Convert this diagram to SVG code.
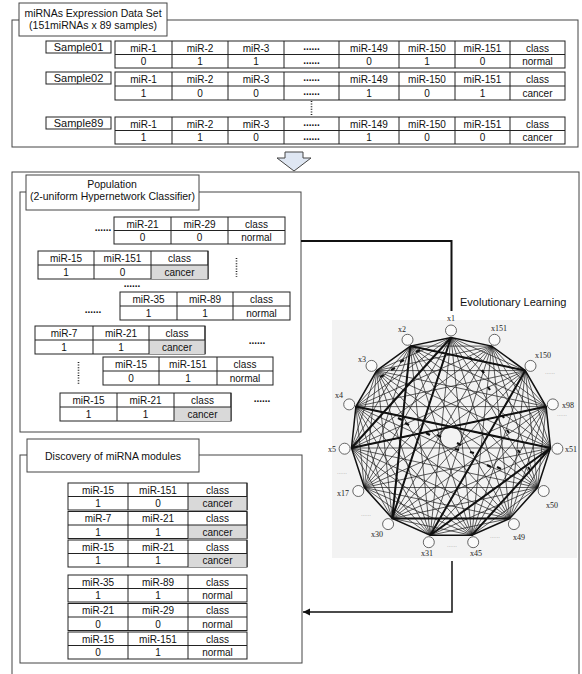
<svg xmlns="http://www.w3.org/2000/svg" width="582" height="674" viewBox="0 0 582 674">
<style>
.fr{fill:#fff;stroke:#444;stroke-width:1}
.tb{fill:#fff;stroke:#222;stroke-width:1}
.tl{fill:none;stroke:#222;stroke-width:1}
.sh{fill:#d9d9d9;stroke:none}
text{font-family:'Liberation Sans',Arial,sans-serif;fill:#111}
.t{font-size:10px;text-anchor:middle}
.ti{font-size:10.5px;text-anchor:middle}
.sm{font-size:11px;text-anchor:middle}
.d{font-size:10px;text-anchor:middle;font-weight:bold}
.vd{stroke:#222;stroke-width:1.6;stroke-dasharray:1 1.6;fill:none}
.e{fill:none;stroke:#1a1a1a;stroke-width:0.7}
.ek{fill:none;stroke:#111;stroke-width:2}
.nd{fill:#fafafa;stroke:#555;stroke-width:0.9}
.nl{font-family:'Liberation Serif','Times New Roman',serif;font-size:8px;text-anchor:middle;fill:#222}
.gd{font-size:6px;text-anchor:middle;fill:#999}
.cn{fill:none;stroke:#111}
</style>
<defs>
<marker id="ah" markerWidth="8" markerHeight="8" refX="7" refY="4" orient="auto" markerUnits="userSpaceOnUse"><path d="M0 0.5L7 4L0 7.5Z" fill="#111"/></marker>
</defs>

<!-- Section 1: data set -->
<g id="dataset-panel">
<rect class="fr" x="12" y="20" width="566" height="127"/>
<rect class="fr" x="19" y="3" width="148" height="33"/>
<text class="ti" x="93" y="16.5">miRNAs Expression Data Set</text>
<text class="ti" x="93" y="29">(151miRNAs x 89 samples)</text>
</g>

<g id="sample01">
<rect class="tb" x="46" y="41" width="65" height="12"/>
<text class="sm" x="78.5" y="51">Sample01</text>
<rect class="tb" x="115" y="41" width="450" height="27"/>
<path class="tl" d="M115 54.5H565M172 41V68M228 41V68M284 41V68M339 41V68M399 41V68M455 41V68M510 41V68"/>
<text class="t" x="143.5" y="51.5">miR-1</text><text class="t" x="200" y="51.5">miR-2</text><text class="t" x="256" y="51.5">miR-3</text><text class="d" x="311.5" y="50">......</text><text class="t" x="369" y="51.5">miR-149</text><text class="t" x="427" y="51.5">miR-150</text><text class="t" x="482.5" y="51.5">miR-151</text><text class="t" x="537.5" y="51.5">class</text>
<text class="t" x="143.5" y="65">0</text><text class="t" x="200" y="65">1</text><text class="t" x="256" y="65">1</text><text class="d" x="311.5" y="63.5">......</text><text class="t" x="369" y="65">0</text><text class="t" x="427" y="65">1</text><text class="t" x="482.5" y="65">0</text><text class="t" x="537.5" y="65">normal</text>
</g>

<g id="sample02">
<rect class="tb" x="46" y="72" width="65" height="12"/>
<text class="sm" x="78.5" y="82">Sample02</text>
<rect class="tb" x="115" y="72" width="450" height="28"/>
<path class="tl" d="M115 86H565M172 72V100M228 72V100M284 72V100M339 72V100M399 72V100M455 72V100M510 72V100"/>
<text class="t" x="143.5" y="82.5">miR-1</text><text class="t" x="200" y="82.5">miR-2</text><text class="t" x="256" y="82.5">miR-3</text><text class="d" x="311.5" y="81">......</text><text class="t" x="369" y="82.5">miR-149</text><text class="t" x="427" y="82.5">miR-150</text><text class="t" x="482.5" y="82.5">miR-151</text><text class="t" x="537.5" y="82.5">class</text>
<text class="t" x="143.5" y="96.5">1</text><text class="t" x="200" y="96.5">0</text><text class="t" x="256" y="96.5">0</text><text class="d" x="311.5" y="95">......</text><text class="t" x="369" y="96.5">1</text><text class="t" x="427" y="96.5">0</text><text class="t" x="482.5" y="96.5">1</text><text class="t" x="537.5" y="96.5">cancer</text>
</g>

<path class="vd" d="M311.5 101V116"/>

<g id="sample89">
<rect class="tb" x="46" y="117" width="65" height="12"/>
<text class="sm" x="78.5" y="127">Sample89</text>
<rect class="tb" x="115" y="117" width="450" height="27"/>
<path class="tl" d="M115 130.5H565M172 117V144M228 117V144M284 117V144M339 117V144M399 117V144M455 117V144M510 117V144"/>
<text class="t" x="143.5" y="127.5">miR-1</text><text class="t" x="200" y="127.5">miR-2</text><text class="t" x="256" y="127.5">miR-3</text><text class="d" x="311.5" y="126">......</text><text class="t" x="369" y="127.5">miR-149</text><text class="t" x="427" y="127.5">miR-150</text><text class="t" x="482.5" y="127.5">miR-151</text><text class="t" x="537.5" y="127.5">class</text>
<text class="t" x="143.5" y="141">1</text><text class="t" x="200" y="141">1</text><text class="t" x="256" y="141">0</text><text class="d" x="311.5" y="139.5">......</text><text class="t" x="369" y="141">1</text><text class="t" x="427" y="141">0</text><text class="t" x="482.5" y="141">0</text><text class="t" x="537.5" y="141">cancer</text>
</g>

<g id="transition-arrow">
<path d="M285 152H303V158H311L294 171L277 158H285Z" fill="#dfe7f3" stroke="#444" stroke-width="1"/>
</g>

<!-- Section 2 -->
<g id="learning-section">
<rect class="fr" x="12" y="172" width="567" height="520"/>
</g>

<g id="population-panel">
<rect class="fr" x="20" y="192" width="281" height="240"/>
<rect class="fr" x="26" y="175" width="173" height="35"/>
<text class="ti" x="112" y="188">Population</text>
<text class="ti" x="112.5" y="200">(2-uniform Hypernetwork Classifier)</text>
</g>

<g id="pop-edge-1">
<rect class="tb" x="114" y="217" width="171" height="27"/>
<path class="tl" d="M114 230.5H285M171 217V244M228 217V244"/>
<text class="t" x="142.5" y="227.5">miR-21</text><text class="t" x="199.5" y="227.5">miR-29</text><text class="t" x="256.5" y="227.5">class</text>
<text class="t" x="142.5" y="241">0</text><text class="t" x="199.5" y="241">0</text><text class="t" x="256.5" y="241">normal</text>
</g>
<g id="pop-edge-2">
<rect class="tb" x="38" y="251" width="170" height="28"/>
<rect class="sh" x="151" y="265" width="57" height="14"/>
<path class="tl" d="M38 265H208M94 251V279M151 251V279M208 251V279"/>
<text class="t" x="66" y="261.5">miR-15</text><text class="t" x="122.5" y="261.5">miR-151</text><text class="t" x="179.5" y="261.5">class</text>
<text class="t" x="66" y="275.5">1</text><text class="t" x="122.5" y="275.5">0</text><text class="t" x="179.5" y="275.5">cancer</text>
</g>
<g id="pop-edge-3">
<rect class="tb" x="120" y="292" width="170" height="28"/>
<path class="tl" d="M120 306H290M177 292V320M233 292V320"/>
<text class="t" x="148.5" y="302.5">miR-35</text><text class="t" x="205" y="302.5">miR-89</text><text class="t" x="261.5" y="302.5">class</text>
<text class="t" x="148.5" y="316.5">1</text><text class="t" x="205" y="316.5">1</text><text class="t" x="261.5" y="316.5">normal</text>
</g>
<g id="pop-edge-4">
<rect class="tb" x="35" y="326" width="170" height="28"/>
<rect class="sh" x="149" y="340" width="56" height="14"/>
<path class="tl" d="M35 340H205M93 326V354M149 326V354M205 326V354"/>
<text class="t" x="64" y="336.5">miR-7</text><text class="t" x="121" y="336.5">miR-21</text><text class="t" x="177" y="336.5">class</text>
<text class="t" x="64" y="350.5">1</text><text class="t" x="121" y="350.5">1</text><text class="t" x="177" y="350.5">cancer</text>
</g>
<g id="pop-edge-5">
<rect class="tb" x="103" y="357" width="170" height="28"/>
<path class="tl" d="M103 371H273M159 357V385M217 357V385"/>
<text class="t" x="131" y="367.5">miR-15</text><text class="t" x="188" y="367.5">miR-151</text><text class="t" x="245" y="367.5">class</text>
<text class="t" x="131" y="381.5">0</text><text class="t" x="188" y="381.5">1</text><text class="t" x="245" y="381.5">normal</text>
</g>
<g id="pop-edge-6">
<rect class="tb" x="60" y="393" width="171" height="28"/>
<rect class="sh" x="174" y="407" width="57" height="14"/>
<path class="tl" d="M60 407H231M117 393V421M174 393V421M231 393V421"/>
<text class="t" x="88.5" y="403.5">miR-15</text><text class="t" x="145.5" y="403.5">miR-21</text><text class="t" x="202.5" y="403.5">class</text>
<text class="t" x="88.5" y="417.5">1</text><text class="t" x="145.5" y="417.5">1</text><text class="t" x="202.5" y="417.5">cancer</text>
</g>
<g id="pop-ellipses">
<text class="d" x="103" y="231">......</text>
<path class="vd" d="M236.5 258V277"/>
<text class="d" x="132" y="287">......</text>
<text class="d" x="93" y="313">......</text>
<text class="d" x="257" y="344">......</text>
<path class="vd" d="M78.5 362V384"/>
<text class="d" x="262" y="402">......</text>
</g>

<g id="evolutionary-label">
<text x="460" y="305.5" style="font-size:11px">Evolutionary Learning</text>
</g>

<g id="hypernetwork">
<rect x="332" y="320" width="245" height="238" fill="#f3f3f3"/>
<path class="e" d="M451 337.5L525.3 370.6 550.5 448 509.8 518.4 430.2 535.3 364.4 487.5 355.9 406.6 410.3 346.1 491.7 346.1 546.1 406.6 537.6 487.5 471.8 535.3 392.2 518.4 351.5 448 376.7 370.6Z
M451 337.5L550.5 448 430.2 535.3 355.9 406.6 491.7 346.1 537.6 487.5 392.2 518.4 376.7 370.6 525.3 370.6 509.8 518.4 364.4 487.5 410.3 346.1 546.1 406.6 471.8 535.3 351.5 448Z
M451 337.5L471.8 535.3 410.3 346.1 509.8 518.4 376.7 370.6 537.6 487.5 355.9 406.6 550.5 448 351.5 448 546.1 406.6 364.4 487.5 525.3 370.6 392.2 518.4 491.7 346.1 430.2 535.3Z
M451 337.5L546.1 406.6 509.8 518.4 392.2 518.4 355.9 406.6Z
M491.7 346.1L550.5 448 471.8 535.3 364.4 487.5 376.7 370.6Z
M525.3 370.6L537.6 487.5 430.2 535.3 351.5 448 410.3 346.1Z
M451 337.5L509.8 518.4 355.9 406.6 546.1 406.6 392.2 518.4Z
M491.7 346.1L471.8 535.3 376.7 370.6 550.5 448 364.4 487.5Z
M525.3 370.6L430.2 535.3 410.3 346.1 537.6 487.5 351.5 448Z
M451 337.5L537.6 487.5 364.4 487.5Z
M491.7 346.1L509.8 518.4 351.5 448Z
M525.3 370.6L471.8 535.3 355.9 406.6Z
M546.1 406.6L430.2 535.3 376.7 370.6Z
M550.5 448L392.2 518.4 410.3 346.1Z"/>
<path d="M451 337.5L491.7 346.1 525.3 370.6 546.1 406.6 550.5 448 537.6 487.5 509.8 518.4 471.8 535.3 430.2 535.3 392.2 518.4 364.4 487.5 351.5 448 355.9 406.6 376.7 370.6 410.3 346.1Z" fill="none" stroke="#111" stroke-width="1.5"/>
<path class="ek" d="M410.3 346.1L525.3 370.6M355.9 406.6L550.5 448M351.5 448L546.1 406.6M351.5 448L451 337.5M451 337.5L392.2 518.4M392.2 518.4L410.3 346.1M430.2 535.3L525.3 370.6M550.5 448L471.8 535.3M550.5 448L430.2 535.3M392.2 518.4L509.8 518.4"/>
<path d="M380 377l4 -2M391 370l4 -2M400 362l4 -2M416 352l4 -2M398 418l4 2M405 423l4 2M426 433l4 2M437 435l4 2M457 443l4 2M470 357l2 3M482 370l2 3M488 387l2 3M502 415l2 3M507 430l2 3M518 450l2 3M528 467l2 3M487 465l4 2M497 467l4 2M455 449l4 1M470 452l4 1" stroke="#111" stroke-width="2.2" fill="none"/>
<circle class="nd" cx="451" cy="330.5" r="5.5"/>
<circle class="nd" cx="494.5" cy="339.8" r="5.5"/>
<circle class="nd" cx="530.5" cy="365.9" r="5.5"/>
<circle class="nd" cx="552.8" cy="404.4" r="5.5"/>
<circle class="nd" cx="557.4" cy="448.7" r="5.5"/>
<circle class="nd" cx="543.7" cy="491" r="5.5"/>
<circle class="nd" cx="513.9" cy="524.1" r="5.5"/>
<circle class="nd" cx="473.2" cy="542.2" r="5.5"/>
<circle class="nd" cx="428.8" cy="542.2" r="5.5"/>
<circle class="nd" cx="388.1" cy="524.1" r="5.5"/>
<circle class="nd" cx="358.3" cy="491" r="5.5"/>
<circle class="nd" cx="344.6" cy="448.7" r="5.5"/>
<circle class="nd" cx="349.2" cy="404.4" r="5.5"/>
<circle class="nd" cx="371.5" cy="365.9" r="5.5"/>
<circle class="nd" cx="407.5" cy="339.8" r="5.5"/>
<text class="nl" x="451" y="321">x1</text>
<text class="nl" x="499" y="331">x151</text>
<text class="nl" x="543" y="358">x150</text>
<text class="nl" x="568" y="408">x98</text>
<text class="nl" x="571" y="452">x51</text>
<text class="nl" x="552" y="508">x50</text>
<text class="nl" x="519" y="540">x49</text>
<text class="nl" x="476" y="556">x45</text>
<text class="nl" x="427" y="556">x31</text>
<text class="nl" x="377" y="537">x30</text>
<text class="nl" x="343" y="496">x17</text>
<text class="nl" x="332" y="452">x5</text>
<text class="nl" x="339" y="398">x4</text>
<text class="nl" x="362" y="362">x3</text>
<text class="nl" x="402" y="332">x2</text>
<text class="gd" x="550" y="374">......</text>
<text class="gd" x="562" y="416">......</text>
<text class="gd" x="342" y="474">......</text>
<text class="gd" x="366" y="516">......</text>
<text class="gd" x="452" y="547">......</text>
<text class="gd" x="495" y="538">......</text>
</g>

<g id="discovery-panel">
<rect class="fr" x="20" y="455" width="282" height="208"/>
<rect class="fr" x="27" y="439" width="172" height="33"/>
<text class="ti" x="113" y="460">Discovery of miRNA modules</text>
</g>

<g id="module-1">
<rect class="tb" x="68" y="483" width="179" height="27"/>
<rect class="sh" x="188" y="496.5" width="59" height="13.5"/>
<path class="tl" d="M68 496.5H247M128 483V510M188 483V510M247 483V510"/>
<text class="t" x="98" y="493.5">miR-15</text><text class="t" x="158" y="493.5">miR-151</text><text class="t" x="217.5" y="493.5">class</text>
<text class="t" x="98" y="507">1</text><text class="t" x="158" y="507">0</text><text class="t" x="217.5" y="507">cancer</text>
</g>
<g id="module-2">
<rect class="tb" x="68" y="511.5" width="179" height="27"/>
<rect class="sh" x="188" y="525" width="59" height="13.5"/>
<path class="tl" d="M68 525H247M128 511.5V538.5M188 511.5V538.5M247 511.5V538.5"/>
<text class="t" x="98" y="522">miR-7</text><text class="t" x="158" y="522">miR-21</text><text class="t" x="217.5" y="522">class</text>
<text class="t" x="98" y="535.5">1</text><text class="t" x="158" y="535.5">1</text><text class="t" x="217.5" y="535.5">cancer</text>
</g>
<g id="module-3">
<rect class="tb" x="68" y="540" width="179" height="27"/>
<rect class="sh" x="188" y="553.5" width="59" height="13.5"/>
<path class="tl" d="M68 553.5H247M128 540V567M188 540V567M247 540V567"/>
<text class="t" x="98" y="550.5">miR-15</text><text class="t" x="158" y="550.5">miR-21</text><text class="t" x="217.5" y="550.5">class</text>
<text class="t" x="98" y="564">1</text><text class="t" x="158" y="564">1</text><text class="t" x="217.5" y="564">cancer</text>
</g>
<g id="module-4">
<rect class="tb" x="68" y="575" width="179" height="27"/>
<path class="tl" d="M68 588.5H247M128 575V602M188 575V602"/>
<text class="t" x="98" y="585.5">miR-35</text><text class="t" x="158" y="585.5">miR-89</text><text class="t" x="217.5" y="585.5">class</text>
<text class="t" x="98" y="599">1</text><text class="t" x="158" y="599">1</text><text class="t" x="217.5" y="599">normal</text>
</g>
<g id="module-5">
<rect class="tb" x="68" y="603.5" width="179" height="27"/>
<path class="tl" d="M68 617H247M128 603.5V630.5M188 603.5V630.5"/>
<text class="t" x="98" y="614">miR-21</text><text class="t" x="158" y="614">miR-29</text><text class="t" x="217.5" y="614">class</text>
<text class="t" x="98" y="627.5">0</text><text class="t" x="158" y="627.5">0</text><text class="t" x="217.5" y="627.5">normal</text>
</g>
<g id="module-6">
<rect class="tb" x="68" y="632" width="179" height="27"/>
<path class="tl" d="M68 645.5H247M128 632V659M188 632V659"/>
<text class="t" x="98" y="642.5">miR-15</text><text class="t" x="158" y="642.5">miR-151</text><text class="t" x="217.5" y="642.5">class</text>
<text class="t" x="98" y="656">0</text><text class="t" x="158" y="656">1</text><text class="t" x="217.5" y="656">normal</text>
</g>

<g id="connectors">
<path class="cn" d="M301 241H451.5V311" stroke-width="2"/>
<path class="cn" d="M452 561V612H303" stroke-width="1.5" marker-end="url(#ah)"/>
</g>
</svg>
